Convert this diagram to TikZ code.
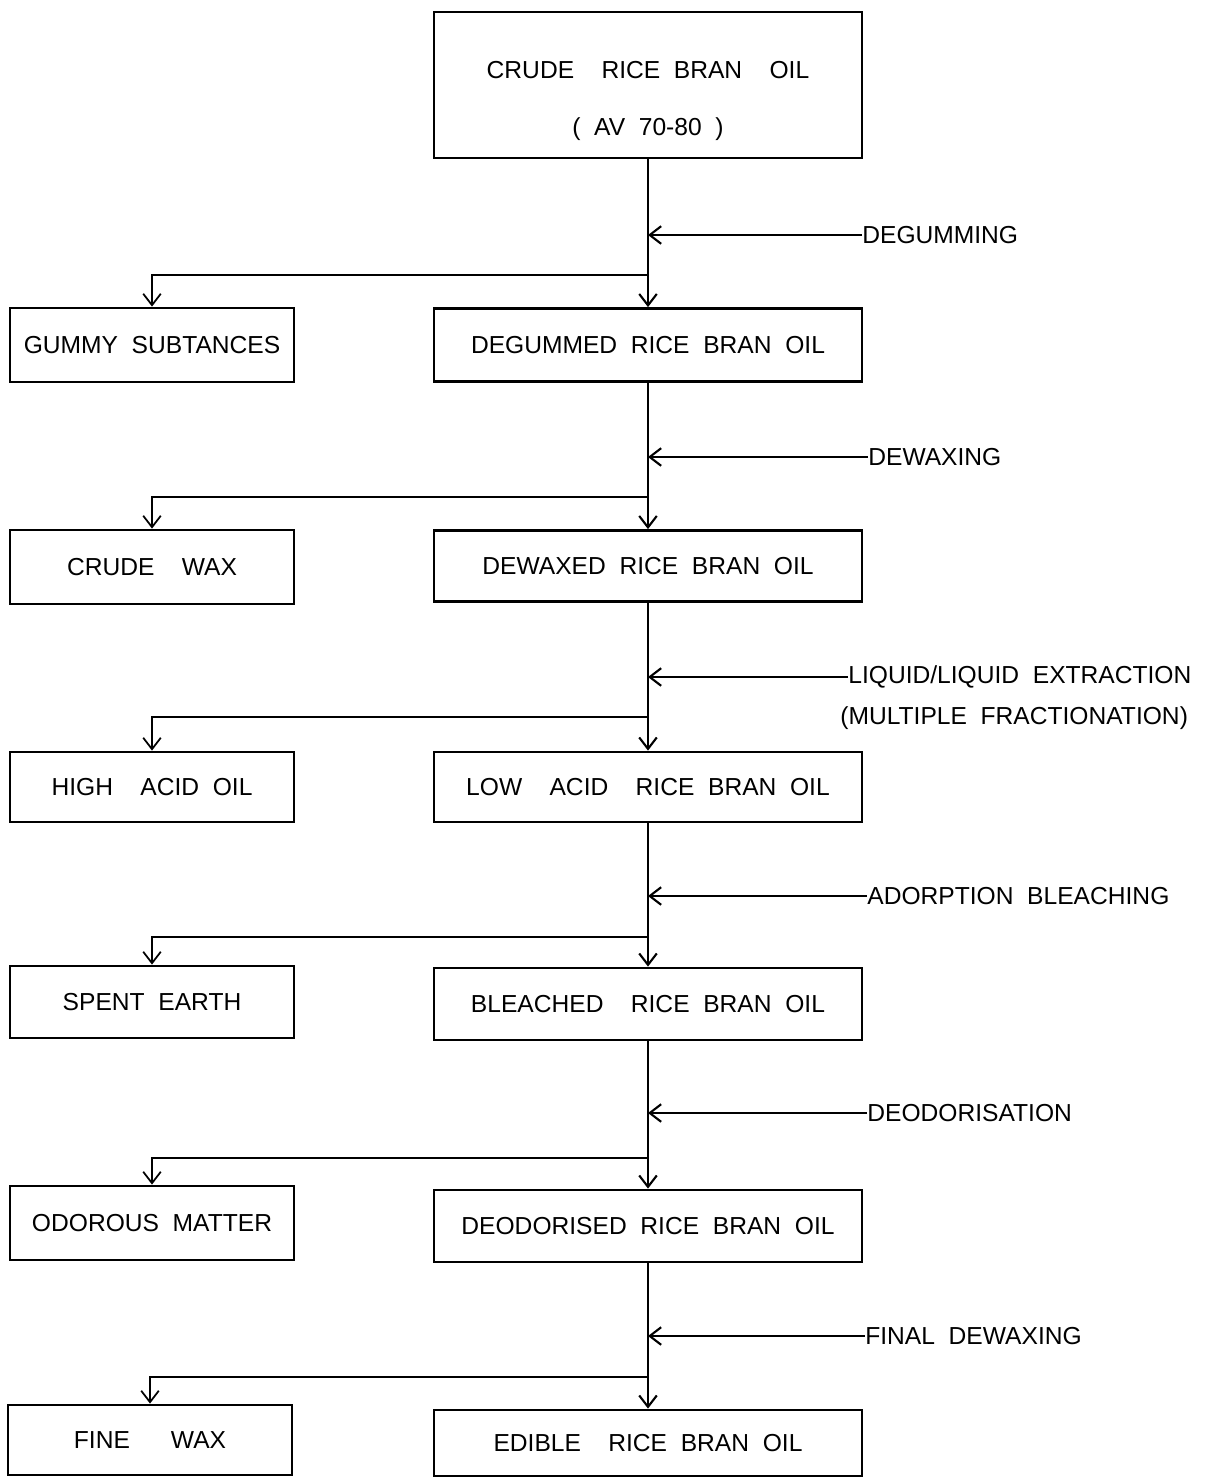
\documentclass[tikz,border=0pt]{standalone}
\usepackage{fontspec}
\setmainfont{Liberation Sans}[WordSpace=2]
\usetikzlibrary{arrows.meta}

\begin{document}
\begin{tikzpicture}[x=0.02cm, y=-0.02cm,
  box/.style={draw, line width=1.6pt, align=center, font=\fontsize{14}{17}\selectfont, inner sep=0pt, minimum height=#1},
  box/.default=1.44cm,
  main/.style={box=#1, minimum width=8.56cm}, main/.default=1.44cm,
  side/.style={box=#1, minimum width=5.68cm}, side/.default=1.44cm,
  stage/.style={anchor=west, inner sep=0pt, font=\fontsize{14}{17}\selectfont},
  arrow/.style={-{Straight Barb[length=6.5pt, width=10pt]}, line width=1.2pt},
  branch/.style={arrow, line width=1pt}]
  \useasboundingbox (0,0) rectangle (1205,1478);
  % main line
  \node[main=2.92cm, font=\fontsize{14}{32}\selectfont] (crude) at (648,85) {\rule{0pt}{28pt}CRUDE~ RICE BRAN~ OIL\\( AV 70-80 )};
  \node[main=1.46cm] (degum) at (648,345) {DEGUMMED RICE BRAN OIL};
  \node[main=1.42cm] (dewax) at (648,566) {DEWAXED RICE BRAN OIL};
  \node[main=1.40cm] (lacid) at (648,787) {LOW~ ACID~ RICE BRAN OIL};
  \node[main] (bleach) at (648,1004) {BLEACHED~ RICE BRAN OIL};
  \node[main] (deodor) at (648,1226) {DEODORISED RICE BRAN OIL};
  \node[main=1.32cm] (edible) at (648,1443) {EDIBLE~ RICE BRAN OIL};
  % by-products
  \node[side=1.48cm] (gum) at (152,345) {GUMMY SUBTANCES};
  \node[side=1.48cm] (cwax) at (152,567) {CRUDE~ WAX};
  \node[side=1.40cm] (hacid) at (152,787) {HIGH~ ACID OIL};
  \node[side] (earth) at (152,1002) {SPENT EARTH};
  \node[side=1.48cm] (odour) at (152,1223) {ODOROUS MATTER};
  \node[side=1.40cm] (fwax) at (150,1440) {FINE~~ WAX};
  % process steps
  \node[stage] (deg) at (862,235) {DEGUMMING};
  \node[stage] (dwx) at (868,457) {DEWAXING};
  \node[stage] (lle) at (848,677) {LIQUID/LIQUID EXTRACTION};
  \node[stage] (mfr) at (840,718) {(MULTIPLE FRACTIONATION)};
  \node[stage] (ads) at (867,896) {ADORPTION BLEACHING};
  \node[stage] (deo) at (867,1113) {DEODORISATION};
  \node[stage] (fin) at (865,1336) {FINAL DEWAXING};
  \foreach \a/\b/\s/\l/\y in {crude/degum/gum/deg/275, degum/dewax/cwax/dwx/497,
      dewax/lacid/hacid/lle/717, lacid/bleach/earth/ads/937,
      bleach/deodor/odour/deo/1158, deodor/edible/fwax/fin/1377} {
    \draw[arrow] (\a.south) -- (\b.north);
    \draw[arrow] (\l.west) -- (\l.west -| \a.south);
    \coordinate (\s-br) at (\a.south |- 0,\y);
    \draw[branch] (\s-br) -| (\s.north);
  }
\end{tikzpicture}
\end{document}
